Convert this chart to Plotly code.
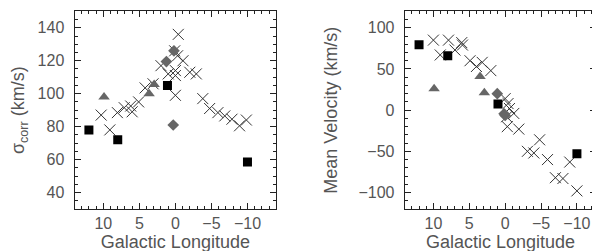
import plotly.graph_objects as go

# ---- data ----
# Left panel: sigma_corr vs Galactic longitude
l_cross_x = [-0.4, 0.1, -0.3, -1.05, 2.0, 1.0, 0.0, 0.0, 0.0, -2.0, -2.9, -3.8, -4.75,
             -5.9, -6.85, -7.85, -8.9, -9.85, 10.3, 9.1, 8.05, 7.1, 6.2, 6.0, 5.1, 4.2, 3.1]
l_cross_y = [136, 126, 123, 120, 117, 112, 114, 111, 99, 113, 112, 97, 91,
             88.5, 86.5, 84.5, 80.5, 84, 87, 78, 88.5, 91.5, 92.5, 89, 95, 103.5, 106]
l_sq_x = [12.0, 8.0, 1.1, -10.0]
l_sq_y = [78, 72, 105, 58.5]
l_tri_x = [9.9, 3.65, 2.95]
l_tri_y = [98, 100, 105.5]
l_dia_x = [1.25, 0.3, 0.2]
l_dia_y = [119.5, 81, 126]

# Right panel: mean velocity vs Galactic longitude
r_cross_x = [10.0, 7.9, 9.05, 7.0, 6.05, 5.95, 4.9, 4.0, 3.2, 2.0, 0.0, -0.4, -0.6, -1.2,
             -0.2, -0.3, -1.9, -4.8, -3.1, -4.0, -5.9, -7.0, -8.05, -9.0, -10.0]
r_cross_y = [85, 85, 67, 73, 82, 79, 60, 53, 58, 48, 14, 8, 2, -4,
             -8, -20, -23, -36, -50, -52, -60, -82, -83, -63, -98]
r_sq_x = [12.0, 8.0, 1.0, -10.0]
r_sq_y = [79.5, 66, 7.5, -53]
r_tri_x = [9.9, 3.5, 2.9]
r_tri_y = [26, 41, 21]
r_dia_x = [1.1, 0.15, 0.0]
r_dia_y = [20, -4.5, -6.5]

left_yticks = [40, 60, 80, 100, 120, 140]
right_yticks = [-100, -50, 0, 50, 100]
xticks = [10, 5, 0, -5, -10]

FONT = "Liberation Sans"
TXT = "#555555"
GREY = "#666666"
AX = "#222222"

fig = go.Figure()

def add_panel(xs, ys, sqx, sqy, trx, tr_y, dx, dy, xa, ya):
    fig.add_trace(go.Scatter(x=xs, y=ys, mode="markers", xaxis=xa, yaxis=ya,
                             marker=dict(symbol="x-thin", size=11,
                                         line=dict(width=1, color="#333333")),
                             showlegend=False))
    fig.add_trace(go.Scatter(x=trx, y=tr_y, mode="markers", xaxis=xa, yaxis=ya,
                             marker=dict(symbol="triangle-up", size=10, color=GREY),
                             showlegend=False))
    fig.add_trace(go.Scatter(x=dx, y=dy, mode="markers", xaxis=xa, yaxis=ya,
                             marker=dict(symbol="diamond", size=9, color=GREY),
                             showlegend=False))
    fig.add_trace(go.Scatter(x=sqx, y=sqy, mode="markers", xaxis=xa, yaxis=ya,
                             marker=dict(symbol="square", size=9, color="black"),
                             showlegend=False))

add_panel(l_cross_x, l_cross_y, l_sq_x, l_sq_y, l_tri_x, l_tri_y, l_dia_x, l_dia_y, "x", "y")
add_panel(r_cross_x, r_cross_y, r_sq_x, r_sq_y, r_tri_x, r_tri_y, r_dia_x, r_dia_y, "x2", "y2")

W, H = 600, 251
ydom = [1 - 201 / H, 1 - 3.3 / H]

common_x = dict(
    showgrid=False, zeroline=False, showline=True, linecolor=AX, linewidth=1,
    mirror="ticks", ticks="inside", ticklen=6, tickcolor=AX,
    tickmode="array", tickvals=xticks, ticktext=["10", "5", "0", "\u22125", "\u221210"],
    tickfont=dict(family=FONT, size=16, color=TXT),
    minor=dict(dtick=1, tick0=0, ticks="inside", ticklen=3, tickcolor=AX),
    ticklabelstandoff=0,
    title=dict(text="Galactic Longitude", font=dict(family=FONT, size=18, color=TXT), standoff=0),
)
common_y = dict(
    showgrid=False, zeroline=False, showline=True, linecolor=AX, linewidth=1,
    mirror="ticks", ticks="inside", ticklen=6, tickcolor=AX,
    tickfont=dict(family=FONT, size=16, color=TXT),
    ticklabelstandoff=6,
)

fig.update_layout(
    width=W, height=H, margin=dict(l=0, r=0, t=0, b=0),
    plot_bgcolor="white", paper_bgcolor="white",
    xaxis=dict(common_x, domain=[66.5 / W, 268.3 / W], range=[14, -14], anchor="y"),
    xaxis2=dict(common_x, domain=[396.7 / W, 588.3 / W], range=[14, -12.7], anchor="y2"),
    yaxis=dict(common_y, domain=ydom, range=[30, 150], anchor="x",
               tickmode="array", tickvals=left_yticks,
               ticktext=[str(v) for v in left_yticks],
               minor=dict(dtick=5, tick0=0, ticks="inside", ticklen=3, tickcolor=AX),
               title=dict(text="\u03c3<sub>corr</sub> (km/s)",
                          font=dict(family=FONT, size=18, color=TXT), standoff=14)),
    yaxis2=dict(common_y, domain=ydom, range=[-120, 120], anchor="x2",
                tickmode="array", tickvals=right_yticks,
                ticktext=[str(v).replace("-", "\u2212") for v in right_yticks],
                minor=dict(dtick=10, tick0=0, ticks="inside", ticklen=3, tickcolor=AX),
                title=dict(text="Mean Velocity (km/s)",
                           font=dict(family=FONT, size=18, color=TXT), standoff=16)),
)

fig.write_html("out.html")
